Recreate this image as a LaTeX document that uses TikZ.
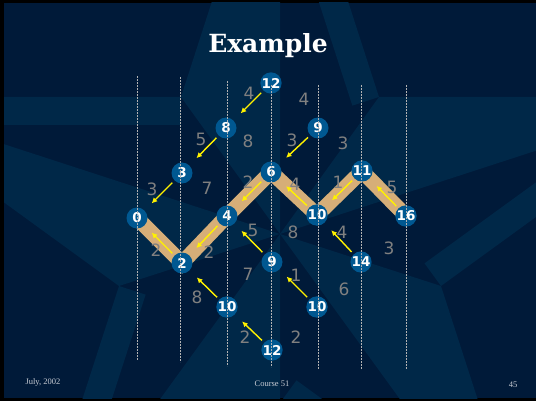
\documentclass[tikz,border=0pt]{standalone}
\usepackage{fontspec}
\usetikzlibrary{arrows.meta}

\newfontfamily\cellfont{DejaVu Sans}
\newfontfamily\titlefont{DejaVu Serif}
\newfontfamily\footfont{Liberation Serif}

\definecolor{slidebg}{RGB}{0,26,57}
\definecolor{starlight}{RGB}{0,40,72}
\definecolor{cellblue}{RGB}{0,88,145}
\definecolor{pathtan}{RGB}{214,174,120}
\definecolor{costgray}{RGB}{128,128,128}
\definecolor{footgray}{RGB}{200,204,212}

\pgfdeclarelayer{backdrop}
\pgfdeclarelayer{band}
\pgfsetlayers{backdrop,band,main}

\begin{document}
\begin{tikzpicture}[x=1pt, y=-1pt,
    cell/.style={circle, fill=cellblue, text=white, inner sep=0pt, minimum size=21pt,
                 font=\cellfont\bfseries\fontsize{13.5}{14}\selectfont},
    cost/.style={text=costgray, inner sep=0pt, font=\cellfont\fontsize{17}{17}\selectfont},
    backptr/.style={draw=yellow, line width=1.4pt, -{Latex[length=5.5pt, width=5.5pt]},
                    shorten <=3pt, shorten >=10pt},
    gridline/.style={draw=gray!60, line width=0.5pt, dash pattern=on 2pt off 1pt},
    foot/.style={text=footgray, inner sep=0pt, font=\footfont\fontsize{8.5}{9}\selectfont}]

    \useasboundingbox (0,0) rectangle (536,401);

    % Slide background with a bevelled star
    \begin{pgfonlayer}{backdrop}
    \fill[black] (0,0) rectangle (536,401);
    \fill[slidebg] (4,3) rectangle (536,398);
    \coordinate (c) at (280,234);
    \coordinate (t0) at (280,-209);
    \coordinate (t1) at (701,97);
    \coordinate (t2) at (540,592);
    \coordinate (t3) at (20,592);
    \coordinate (t4) at (-141,97);
    \coordinate (i01) at (379,97);
    \coordinate (i12) at (441,286);
    \coordinate (i23) at (280,403);
    \coordinate (i34) at (119,286);
    \coordinate (i40) at (181,97);
    \begin{scope}
        \clip (4,3) rectangle (536,398);
        \foreach \i/\t in {i40/t0, i01/t1, i12/t2, i23/t3, i34/t4}
            \fill[starlight] (c) -- (\i) -- (\t) -- cycle;
        \foreach \t/\i in {t0/i01, t1/i12, t2/i23, t3/i34, t4/i40} {
            \begin{scope}
                \clip (c) -- (\t) -- (\i) -- cycle;
                \draw[starlight, line width=56pt] (\t) -- (\i);
            \end{scope}
        }
    \end{scope}
    \end{pgfonlayer}

    % Title and footer
    \node[text=white, font=\titlefont\bfseries\fontsize{25}{29}\selectfont] (title) at (268,46) {Example};
    \node[foot] (date) at (43,382) {July, 2002};
    \node[foot] (course) at (272,384) {Course 51};
    \node[foot] (page) at (513,385) {45};

    % Edge costs
    \node[cost] (w1) at (249,93) {4};
    \node[cost] (w2) at (304,99) {4};
    \node[cost] (w3) at (201,139) {5};
    \node[cost] (w4) at (248,141) {8};
    \node[cost] (w5) at (292,140) {3};
    \node[cost] (w6) at (343,143) {3};
    \node[cost] (w7) at (152,189) {3};
    \node[cost] (w8) at (207,188) {7};
    \node[cost] (w9) at (248,182) {2};
    \node[cost] (w10) at (295,184) {4};
    \node[cost] (w11) at (338,182) {1};
    \node[cost] (w12) at (392,187) {5};
    \node[cost] (w13) at (156,250) {2};
    \node[cost] (w14) at (209,252) {2};
    \node[cost] (w15) at (253,230) {5};
    \node[cost] (w16) at (293,232) {8};
    \node[cost] (w17) at (342,232) {4};
    \node[cost] (w18) at (389,248) {3};
    \node[cost] (w19) at (248,274) {7};
    \node[cost] (w20) at (296,275) {1};
    \node[cost] (w21) at (197,297) {8};
    \node[cost] (w22) at (344,289) {6};
    \node[cost] (w23) at (245,337) {2};
    \node[cost] (w24) at (296,337) {2};

    % Cells with their path costs
    \node[cell] (n0) at (137,218) {0};
    \node[cell] (n2) at (182,263) {2};
    \node[cell] (n3) at (182,173) {3};
    \node[cell] (n4) at (227,216) {4};
    \node[cell] (n8) at (226,128) {8};
    \node[cell] (n12a) at (271,83) {12};
    \node[cell] (n6) at (271,172) {6};
    \node[cell] (n9b) at (272,262) {9};
    \node[cell] (n12b) at (272,350) {12};
    \node[cell] (n10b) at (227,307) {10};
    \node[cell] (n9a) at (318,128) {9};
    \node[cell] (n10a) at (317,215) {10};
    \node[cell] (n10c) at (317,307) {10};
    \node[cell] (n11) at (362,171) {11};
    \node[cell] (n14) at (361,262) {14};
    \node[cell] (n16) at (406,216) {16};

    % Best path
    \begin{pgfonlayer}{band}
    \draw[pathtan, line width=15pt] (n0.center) -- (n2.center) -- (n4.center) -- (n6.center)
        -- (n10a.center) -- (n11.center) -- (n16.center);
    \end{pgfonlayer}

    % Dashed column lines
    \foreach \x/\ya/\yb in {137/76/360, 180/77/362, 227/81/366, 271/85/367,
                            318/85/369, 361/85/369, 406/85/369}
        \draw[gridline] (\x,\ya) -- (\x,\yb);

    % Back pointers
    \draw[backptr] (n2) -- (n0);
    \draw[backptr] (n4) -- (n2);
    \draw[backptr] (n6) -- (n4);
    \draw[backptr] (n10a) -- (n6);
    \draw[backptr] (n11) -- (n10a);
    \draw[backptr] (n16) -- (n11);
    \draw[backptr] (n12a) -- (n8);
    \draw[backptr] (n8) -- (n3);
    \draw[backptr] (n3) -- (n0);
    \draw[backptr] (n9a) -- (n6);
    \draw[backptr] (n9b) -- (n4);
    \draw[backptr] (n10b) -- (n2);
    \draw[backptr] (n12b) -- (n10b);
    \draw[backptr] (n10c) -- (n9b);
    \draw[backptr] (n14) -- (n10a);

\end{tikzpicture}
\end{document}
